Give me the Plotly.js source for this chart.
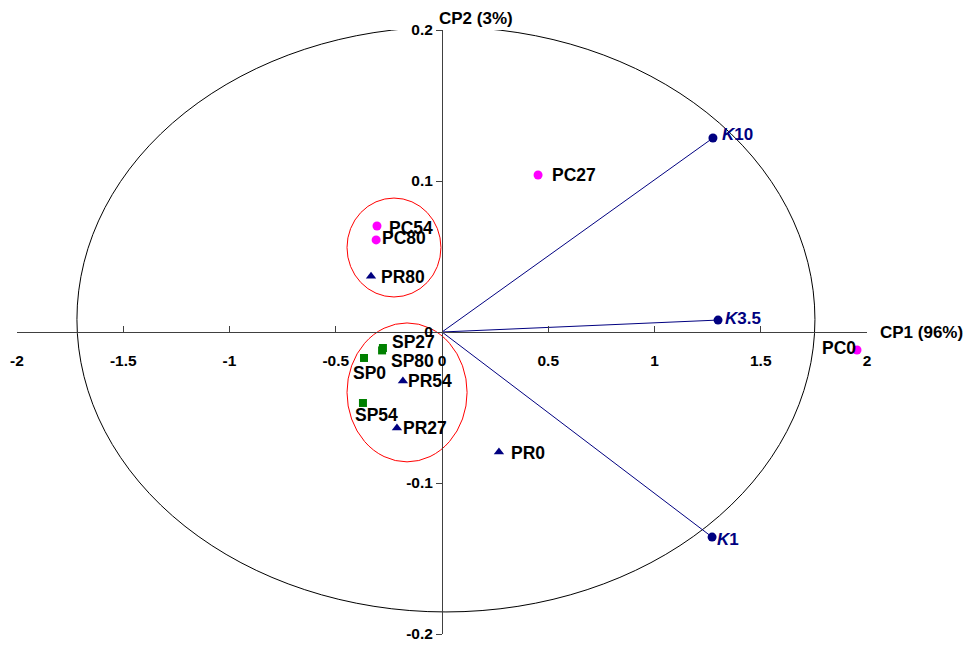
<!DOCTYPE html>
<html>
<head>
<meta charset="utf-8">
<script src="https://cdn.plot.ly/plotly-3.0.1.min.js"></script>
<style>html,body{margin:0;padding:0;background:#fff;}#chart{width:967px;height:646px;}</style>
</head>
<body>
<div id="chart"></div>
<script>
// Scores (PCA) by group
const pcNames = ["PC0", "PC27", "PC54", "PC80"];
const pcX = [1.953, 0.452, -0.306, -0.31];
const pcY = [-0.0119, 0.104, 0.0702, 0.061];

const prNames = ["PR0", "PR27", "PR54", "PR80"];
const prX = [0.268, -0.212, -0.184, -0.334];
const prY = [-0.0795, -0.0636, -0.0325, 0.037];

const spNames = ["SP0", "SP27", "SP54", "SP80"];
const spX = [-0.367, -0.278, -0.372, -0.282];
const spY = [-0.0172, -0.0106, -0.047, -0.0122];

// Loadings (variables)
const kNames = ["<i>K</i>10", "<i>K</i>3.5", "<i>K</i>1"];
const kX = [1.275, 1.299, 1.271];
const kY = [0.1285, 0.0079, -0.1358];

// Axis ticks
const xTickVals = [-2, -1.5, -1, -0.5, 0, 0.5, 1, 1.5, 2];
const xTickText = ["-2", "-1.5", "-1", "-0.5", "0", "0.5", "1", "1.5", "2"];
const yTickVals = [-0.2, -0.1, 0, 0.1, 0.2];
const yTickText = ["-0.2", "-0.1", "0", "0.1", "0.2"];

// Label placement (anchor, pixel shift x, pixel shift y)
const pcAnchor = ["right", "left", "left", "left"];
const pcShiftX = [0, 13, 11, 5];
const pcShiftY = [2, 0, -2, 2];
const prAnchor = ["left", "left", "left", "left"];
const prShiftX = [11, 5, 4, 9];
const prShiftY = [-1, 0, 0, -1];
const spAnchor = ["center", "left", "center", "left"];
const spShiftX = [5, 8, 14, 8];
const spShiftY = [-15, 6, -12, -11];
const kShiftX = [8, 6, 4];
const kShiftY = [3, 2, -2];

// Ellipses [x0, y0, x1, y1]
const bigEllipse = [-1.718, -0.1854, 1.755, 0.202];
const redEllipses = [[-0.447, 0.0232, -0.005, 0.0887], [-0.447, -0.086, 0.118, 0.006]];

const FAM = "Liberation Sans, Arial, sans-serif";
const labelFont = {family: FAM, size: 17.5, color: "#000", weight: "bold"};
const kFont = {family: FAM, size: 17, color: "#000080", weight: "bold"};

// vector lines from origin
const lx = [], ly = [];
kX.forEach((v, i) => { lx.push(0, v, null); ly.push(0, kY[i], null); });

const traces = [
  {x: lx, y: ly, mode: "lines", line: {color: "#000080", width: 1}, hoverinfo: "skip", cliponaxis: false},
  {x: pcX, y: pcY, mode: "markers", cliponaxis: false, marker: {symbol: "circle", size: 9, color: "#FF00FF"}},
  {x: prX, y: prY, mode: "markers", cliponaxis: false, marker: {symbol: "triangle-up", size: 9, color: "#000080"}},
  {x: spX, y: spY, mode: "markers", cliponaxis: false, marker: {symbol: "square", size: 8, color: "#008000"}},
  {x: kX, y: kY, mode: "markers", cliponaxis: false, marker: {symbol: "circle", size: 9, color: "#000080"}}
];

function labels(names, xs, ys, anchors, sx, sy, font) {
  return names.map((n, i) => ({
    xref: "x", yref: "y", x: xs[i], y: ys[i], text: n, showarrow: false,
    xanchor: anchors[i], yanchor: "middle", xshift: sx[i], yshift: sy[i], font: font, borderpad: 0
  }));
}

const shapes = [
  {type: "circle", xref: "x", yref: "y", x0: bigEllipse[0], y0: bigEllipse[1], x1: bigEllipse[2], y1: bigEllipse[3],
   line: {color: "#000", width: 1}, layer: "below"}
].concat(redEllipses.map(e => ({type: "circle", xref: "x", yref: "y", x0: e[0], y0: e[1], x1: e[2], y1: e[3],
   line: {color: "#FF0000", width: 1}, layer: "below"})));

const tickFont = {family: FAM, size: 15.5, color: "#000", weight: "bold"};
const titleFont = {family: FAM, size: 17, color: "#000", weight: "bold"};

const annotations = [
  {xref: "paper", yref: "y", x: 1, y: 0, xshift: 12, xanchor: "left", yanchor: "middle", showarrow: false,
   text: "CP1 (96%)", font: titleFont, borderpad: 0},
  {xref: "x", yref: "paper", x: 0, y: 1, yshift: 12, xanchor: "left", yanchor: "middle", showarrow: false,
   text: "CP2 (3%)", font: titleFont, borderpad: 0, xshift: -4}
].concat(
  labels(pcNames, pcX, pcY, pcAnchor, pcShiftX, pcShiftY, labelFont),
  labels(prNames, prX, prY, prAnchor, prShiftX, prShiftY, labelFont),
  labels(spNames, spX, spY, spAnchor, spShiftX, spShiftY, labelFont),
  labels(kNames, kX, kY, ["left", "left", "left"], kShiftX, kShiftY, kFont)
);

const layout = {
  width: 967, height: 646,
  margin: {l: 17, r: 100, t: 30, b: 12},
  paper_bgcolor: "#fff", plot_bgcolor: "#fff",
  showlegend: false,
  xaxis: {range: [-2, 2], anchor: "free", position: 0.5, showline: true, linecolor: "#404040", linewidth: 1,
    ticks: "inside", ticklen: 6, tickcolor: "#404040", tickvals: xTickVals, ticktext: xTickText,
    showgrid: false, zeroline: false, tickfont: tickFont, ticklabelstandoff: 14},
  yaxis: {range: [-0.2, 0.2], anchor: "free", position: 0.5, showline: true, linecolor: "#404040", linewidth: 1,
    ticks: "outside", ticklen: 6, tickcolor: "#404040", tickvals: yTickVals, ticktext: yTickText,
    showgrid: false, zeroline: false, tickfont: tickFont},
  shapes: shapes,
  annotations: annotations
};

Plotly.newPlot("chart", traces, layout, {displayModeBar: false, staticPlot: true});
</script>
</body>
</html>
